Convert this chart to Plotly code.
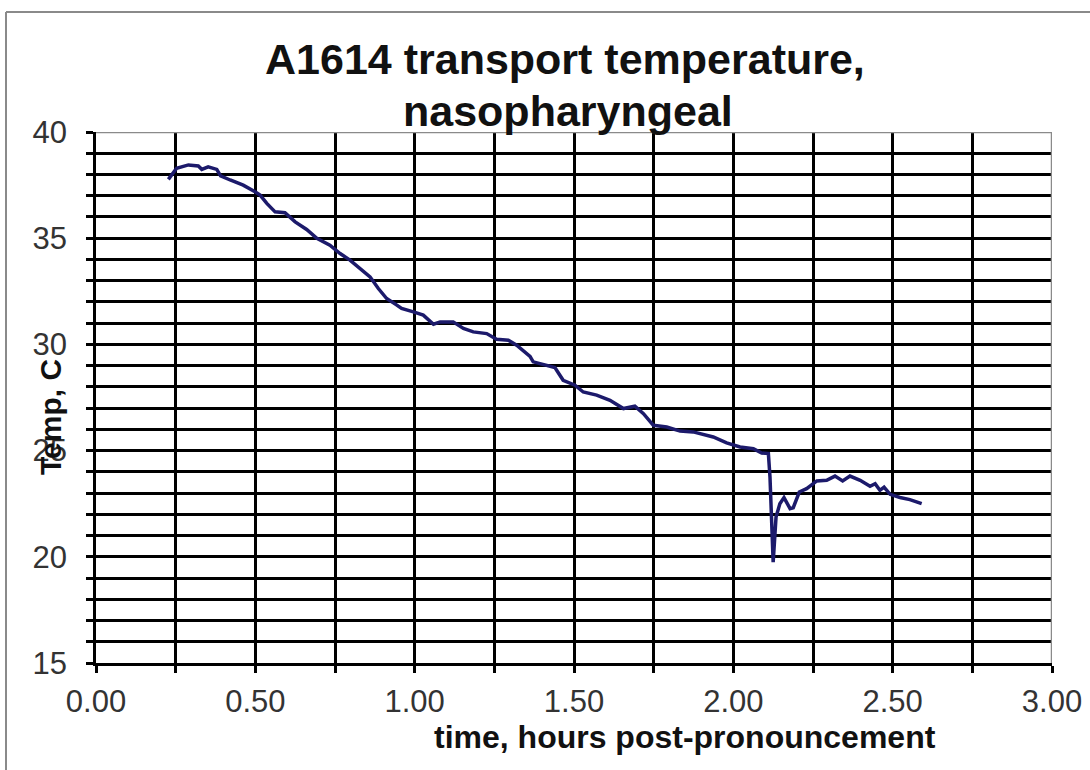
import plotly.graph_objects as go

# time (hours post-pronouncement)
hours = [0.227, 0.253, 0.290, 0.321, 0.332, 0.352, 0.379, 0.391, 0.421, 0.462,
         0.499, 0.515, 0.536, 0.562, 0.593, 0.625, 0.661, 0.693, 0.734, 0.766,
         0.797, 0.828, 0.860, 0.886, 0.912, 0.944, 0.959, 0.996, 1.027, 1.059,
         1.080, 1.121, 1.153, 1.184, 1.226, 1.257, 1.294, 1.320, 1.362, 1.372,
         1.414, 1.440, 1.466, 1.503, 1.529, 1.571, 1.613, 1.655, 1.691, 1.718,
         1.749, 1.791, 1.833, 1.874, 1.937, 1.979, 2.021, 2.063, 2.089, 2.110,
         2.115, 2.120, 2.125, 2.134, 2.146, 2.159, 2.178, 2.188, 2.207, 2.230,
         2.262, 2.293, 2.319, 2.343, 2.366, 2.398, 2.429, 2.445, 2.460, 2.473,
         2.492, 2.523, 2.554, 2.591]
# nasopharyngeal temperature, C
temp_c = [37.77, 38.29, 38.45, 38.40, 38.24, 38.36, 38.24, 37.93, 37.74, 37.50,
          37.19, 37.03, 36.64, 36.24, 36.20, 35.77, 35.41, 34.99, 34.67, 34.28,
          33.97, 33.58, 33.18, 32.63, 32.16, 31.85, 31.69, 31.53, 31.38, 30.95,
          31.06, 31.06, 30.75, 30.59, 30.51, 30.24, 30.20, 29.96, 29.44, 29.18,
          29.02, 28.91, 28.31, 28.08, 27.76, 27.61, 27.37, 26.98, 27.09, 26.74,
          26.19, 26.11, 25.92, 25.88, 25.64, 25.36, 25.17, 25.09, 24.89, 24.86,
          23.76, 21.72, 19.75, 21.87, 22.50, 22.79, 22.27, 22.31, 23.05, 23.21,
          23.57, 23.60, 23.80, 23.57, 23.80, 23.60, 23.32, 23.44, 23.13, 23.28,
          22.94, 22.79, 22.69, 22.50]

x_tickvals = [i * 0.25 for i in range(13)]
x_ticktext = ["0.00", "", "0.50", "", "1.00", "", "1.50", "", "2.00", "", "2.50", "", "3.00"]
y_tickvals = list(range(15, 41))
y_ticktext = [str(v) if v % 5 == 0 else "" for v in y_tickvals]

title_line1 = "<b>A1614 transport temperature,</b>"
title_line2 = "<b>nasopharyngeal</b>"
x_title = "<b>time, hours post-pronouncement</b>"
y_title = "<b>Temp, C</b>"

fig = go.Figure()
fig.add_trace(go.Scatter(x=hours, y=temp_c, mode="lines",
                         line=dict(color="#1c1a6b", width=3.5), showlegend=False))

W, H = 1090, 770
L, R, T, B = 96, 38, 132, 107
pw, ph = W - L - R, H - T - B

def px(xp):
    return (xp - L) / pw

def py(yp):
    return (H - B - yp) / ph

axis_common = dict(showgrid=True, gridcolor="black", gridwidth=2.5,
                   showline=True, linecolor="black", linewidth=2.5,
                   ticks="outside", ticklen=7, tickwidth=2.5, tickcolor="black",
                   tickfont=dict(size=31, color="#333"),
                   zeroline=False, fixedrange=True, automargin=False)

fig.update_layout(
    width=W, height=H,
    margin=dict(l=L, r=R, t=T, b=B, autoexpand=False),
    paper_bgcolor="white", plot_bgcolor="white",
    font=dict(family="Liberation Sans, Arial, sans-serif", color="#222"),
    xaxis=dict(range=[0, 3], tickvals=x_tickvals, ticktext=x_ticktext,
               ticklabelstandoff=2, **axis_common),
    yaxis=dict(range=[15, 40], tickvals=y_tickvals, ticktext=y_ticktext,
               ticklabelstandoff=13, **axis_common),
    shapes=[
        dict(type="line", xref="x", yref="y", x0=0, x1=3, y0=40, y1=40,
             line=dict(color="#8a8a8a", width=2.5), layer="above"),
        dict(type="line", xref="x", yref="y", x0=3, x1=3, y0=15, y1=40,
             line=dict(color="#8a8a8a", width=2.5), layer="above"),
        dict(type="line", xref="paper", yref="paper", x0=px(6), x1=px(6), y0=py(775), y1=py(12),
             line=dict(color="#8a8a8a", width=2)),
        dict(type="line", xref="paper", yref="paper", x0=px(6), x1=px(1095), y0=py(12), y1=py(12),
             line=dict(color="#8a8a8a", width=2)),
    ],
    annotations=[
        dict(text=title_line1, xref="paper", yref="paper", x=px(565), y=py(59),
             xanchor="center", yanchor="middle", showarrow=False,
             font=dict(size=43, color="#111")),
        dict(text=title_line2, xref="paper", yref="paper", x=px(568), y=py(111),
             xanchor="center", yanchor="middle", showarrow=False,
             font=dict(size=43, color="#111")),
        dict(text=x_title, xref="paper", yref="paper", x=px(685), y=py(737),
             xanchor="center", yanchor="middle", showarrow=False,
             font=dict(size=32, color="#111")),
        dict(text=y_title, xref="paper", yref="paper", x=px(50), y=py(417),
             xanchor="center", yanchor="middle", showarrow=False, textangle=-90,
             font=dict(size=30, color="#111")),
    ],
)

fig.write_html("out.html", post_script="document.body.style.margin='0';",
               config={"displayModeBar": False})
